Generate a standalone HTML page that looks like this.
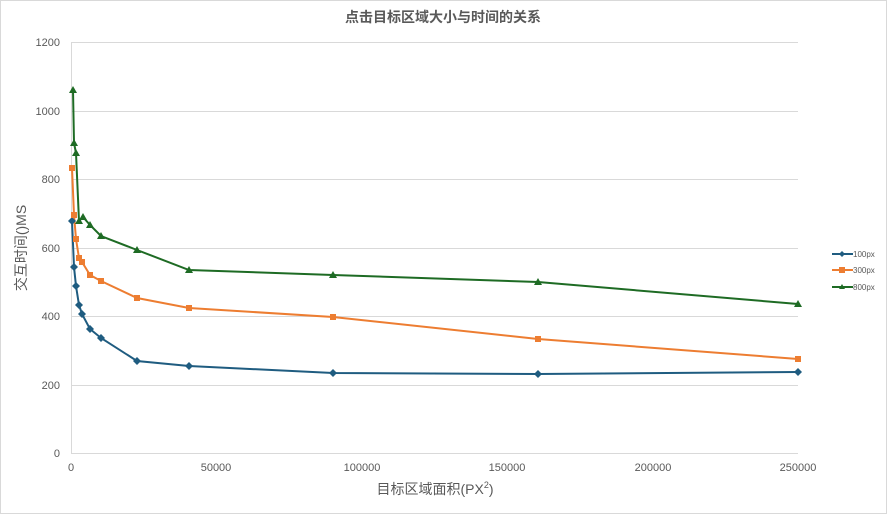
<!DOCTYPE html>
<html><head><meta charset="utf-8"><style>
html,body{margin:0;padding:0;background:#fff}
svg{display:block;font-family:"Liberation Sans","Noto Sans CJK SC",sans-serif}
</style></head><body>
<svg width="887" height="514" viewBox="0 0 887 514">
<rect x="0.5" y="0.5" width="886" height="513" fill="#fff" stroke="#d9d9d9"/>
<text x="443" y="22" text-anchor="middle" font-size="14" font-weight="bold" fill="#595959">点击目标区域大小与时间的关系</text>
<g stroke="#d9d9d9" stroke-width="1">
<line x1="71" y1="42.5" x2="798" y2="42.5"/><line x1="71" y1="111.5" x2="798" y2="111.5"/><line x1="71" y1="179.5" x2="798" y2="179.5"/><line x1="71" y1="248.5" x2="798" y2="248.5"/><line x1="71" y1="316.5" x2="798" y2="316.5"/><line x1="71" y1="385.5" x2="798" y2="385.5"/><line x1="71" y1="453.5" x2="798" y2="453.5"/>
<line x1="71.5" y1="42" x2="71.5" y2="453"/>
</g>
<g font-size="11" fill="#595959" text-anchor="end">
<text x="60" y="46">1200</text><text x="60" y="115">1000</text><text x="60" y="183">800</text><text x="60" y="252">600</text><text x="60" y="320">400</text><text x="60" y="389">200</text><text x="60" y="457">0</text>
</g>
<g font-size="11" fill="#595959" text-anchor="middle">
<text x="71" y="471">0</text><text x="216" y="471">50000</text><text x="362" y="471">100000</text><text x="507" y="471">150000</text><text x="653" y="471">200000</text><text x="798" y="471">250000</text>
</g>
<text x="435" y="494" text-anchor="middle" font-size="14" fill="#595959">目标区域面积(PX<tspan font-size="9" dy="-6">2</tspan><tspan dy="6">)</tspan></text>
<text transform="translate(26,248) rotate(-90)" text-anchor="middle" font-size="14" fill="#595959">交互时间()MS</text>
<polyline fill="none" stroke="#1f5c80" stroke-width="2" points="72,221 74,267 76,286 79,305 82,314 90,329 101,338 137,361 189,366 333,373 538,374 798,372"/>
<polyline fill="none" stroke="#ed7d31" stroke-width="2" points="72,168 74,215 76,239 79,258 82,262 90,275 101,281 137,298 189,308 333,317 538,339 798,359"/>
<polyline fill="none" stroke="#1e6b24" stroke-width="2" points="73,90 74,143 76,153 79,221 83,217 90,225 101,236 137,250 189,270 333,275 538,282 798,304"/>
<g fill="#1f5c80">
<path d="M72,217l4,4l-4,4l-4,-4z"/><path d="M74,263l4,4l-4,4l-4,-4z"/><path d="M76,282l4,4l-4,4l-4,-4z"/><path d="M79,301l4,4l-4,4l-4,-4z"/><path d="M82,310l4,4l-4,4l-4,-4z"/><path d="M90,325l4,4l-4,4l-4,-4z"/><path d="M101,334l4,4l-4,4l-4,-4z"/><path d="M137,357l4,4l-4,4l-4,-4z"/><path d="M189,362l4,4l-4,4l-4,-4z"/><path d="M333,369l4,4l-4,4l-4,-4z"/><path d="M538,370l4,4l-4,4l-4,-4z"/><path d="M798,368l4,4l-4,4l-4,-4z"/>
</g>
<g fill="#ed7d31">
<rect x="69" y="165" width="6" height="6"/><rect x="71" y="212" width="6" height="6"/><rect x="73" y="236" width="6" height="6"/><rect x="76" y="255" width="6" height="6"/><rect x="79" y="259" width="6" height="6"/><rect x="87" y="272" width="6" height="6"/><rect x="98" y="278" width="6" height="6"/><rect x="134" y="295" width="6" height="6"/><rect x="186" y="305" width="6" height="6"/><rect x="330" y="314" width="6" height="6"/><rect x="535" y="336" width="6" height="6"/><rect x="795" y="356" width="6" height="6"/>
</g>
<g fill="#1e6b24">
<path d="M73,86l4,7h-8z"/><path d="M74,139l4,7h-8z"/><path d="M76,149l4,7h-8z"/><path d="M79,217l4,7h-8z"/><path d="M83,213l4,7h-8z"/><path d="M90,221l4,7h-8z"/><path d="M101,232l4,7h-8z"/><path d="M137,246l4,7h-8z"/><path d="M189,266l4,7h-8z"/><path d="M333,271l4,7h-8z"/><path d="M538,278l4,7h-8z"/><path d="M798,300l4,7h-8z"/>
</g>
<g font-size="8" fill="#595959">
<line x1="832" y1="254" x2="853" y2="254" stroke="#1f5c80" stroke-width="2"/><path d="M842,251l3,3l-3,3l-3,-3z" fill="#1f5c80"/><text x="853" y="257">100px</text>
<line x1="832" y1="270" x2="853" y2="270" stroke="#ed7d31" stroke-width="2"/><rect x="839" y="267" width="6" height="6" fill="#ed7d31"/><text x="853" y="273">300px</text>
<line x1="832" y1="287" x2="853" y2="287" stroke="#1e6b24" stroke-width="2"/><path d="M842,284l3,5h-6z" fill="#1e6b24"/><text x="853" y="290">800px</text>
</g>
</svg>
</body></html>
